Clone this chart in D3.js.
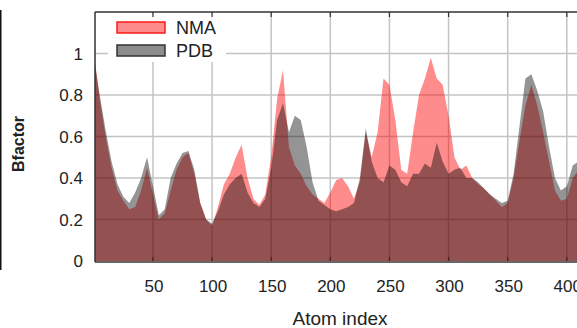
<!DOCTYPE html>
<html>
<head>
<meta charset="utf-8">
<script src="https://cdn.jsdelivr.net/npm/d3@7"></script>
<style>
  body { margin: 0; background: #fff; }
  svg { display: block; font-family: "Liberation Sans", Arial, sans-serif; }
</style>
</head>
<body>
<div class="chart"></div>
<script>
const atomIndex = [1, 5, 10, 15, 20, 25, 30, 35, 40, 45, 50, 55, 60, 65, 70, 75, 80, 85, 90, 95,
  100, 105, 110, 115, 120, 125, 130, 135, 140, 145, 150, 155, 160, 165, 170, 175, 180, 185, 190, 195,
  200, 205, 210, 215, 220, 225, 230, 235, 240, 245, 250, 255, 260, 265, 270, 275, 280, 285, 290, 295,
  300, 305, 310, 315, 320, 325, 330, 335, 340, 345, 350, 355, 360, 365, 370, 375, 380, 385, 390, 395,
  400, 405, 410];

const pdbValues = [0.95, 0.80, 0.63, 0.48, 0.37, 0.31, 0.28, 0.33, 0.40, 0.50, 0.36, 0.22, 0.25, 0.40, 0.47, 0.52, 0.53, 0.44, 0.28, 0.20,
  0.18, 0.24, 0.32, 0.37, 0.40, 0.42, 0.33, 0.28, 0.26, 0.30, 0.45, 0.68, 0.76, 0.62, 0.70, 0.68, 0.55, 0.38, 0.29, 0.27,
  0.25, 0.24, 0.25, 0.26, 0.28, 0.40, 0.64, 0.48, 0.40, 0.38, 0.46, 0.44, 0.38, 0.36, 0.42, 0.42, 0.47, 0.45, 0.57, 0.48,
  0.42, 0.44, 0.45, 0.40, 0.40, 0.38, 0.35, 0.32, 0.30, 0.28, 0.29, 0.42, 0.65, 0.88, 0.90, 0.82, 0.72, 0.55, 0.40, 0.34,
  0.36, 0.46, 0.48];

const nmaValues = [0.96, 0.78, 0.60, 0.45, 0.34, 0.29, 0.25, 0.26, 0.34, 0.45, 0.32, 0.20, 0.23, 0.34, 0.44, 0.50, 0.52, 0.42, 0.28, 0.20,
  0.17, 0.26, 0.37, 0.42, 0.50, 0.56, 0.40, 0.30, 0.27, 0.32, 0.50, 0.78, 0.92, 0.55, 0.46, 0.42, 0.36, 0.32, 0.30, 0.28,
  0.33, 0.39, 0.40, 0.36, 0.30, 0.38, 0.62, 0.50, 0.62, 0.88, 0.85, 0.68, 0.44, 0.42, 0.62, 0.80, 0.88, 0.98, 0.88, 0.85,
  0.70, 0.50, 0.44, 0.46, 0.40, 0.37, 0.35, 0.32, 0.29, 0.26, 0.28, 0.40, 0.58, 0.75, 0.85, 0.75, 0.62, 0.48, 0.34, 0.29,
  0.30, 0.40, 0.44];

const xTicks = [50, 100, 150, 200, 250, 300, 350, 400];
const yTicks = [0, 0.2, 0.4, 0.6, 0.8, 1];
const seriesNames = ['NMA', 'PDB'];

const width = 577, height = 328;
const plot = { left: 95, right: 581, top: 12, bottom: 261 };

const svg = d3.select('.chart').append('svg').attr('width', width).attr('height', height);

const x = d3.scaleLinear().domain([1, 412]).range([plot.left, plot.right]);
const y = d3.scaleLinear().domain([0, 1.2]).range([plot.bottom, plot.top]);

// grid
svg.append('g').selectAll('line').data(xTicks).enter().append('line')
  .attr('x1', d => x(d)).attr('x2', d => x(d))
  .attr('y1', plot.top).attr('y2', plot.bottom)
  .attr('stroke', '#c4c4c4').attr('stroke-width', 1.5);
svg.append('g').selectAll('line').data(yTicks.slice(1)).enter().append('line')
  .attr('x1', plot.left).attr('x2', plot.right)
  .attr('y1', d => y(d)).attr('y2', d => y(d))
  .attr('stroke', '#c4c4c4').attr('stroke-width', 1.5);

svg.append('clipPath').attr('id', 'clip').append('rect')
  .attr('x', plot.left).attr('y', plot.top)
  .attr('width', plot.right - plot.left).attr('height', plot.bottom - plot.top);

const area = values => d3.area()
  .x((d, i) => x(atomIndex[i]))
  .y0(y(0))
  .y1((d, i) => y(values[i]))(values);

const g = svg.append('g').attr('clip-path', 'url(#clip)');
g.append('path').attr('d', area(nmaValues)).attr('fill', 'rgba(255,0,0,0.45)');
g.append('path').attr('d', area(pdbValues)).attr('fill', 'rgba(0,0,0,0.42)');

// legend with white background over the grid
const legend = svg.append('g');
legend.append('rect').attr('x', 108).attr('y', 14).attr('width', 118).attr('height', 48).attr('fill', '#fff');
const legendFill = ['#ff8c8c', '#8c8c8c'];
const legendStroke = ['#ff1a1a', '#333'];
seriesNames.forEach((name, i) => {
  legend.append('rect')
    .attr('x', 117).attr('y', 22 + i * 23).attr('width', 48).attr('height', 11)
    .attr('fill', legendFill[i]).attr('stroke', legendStroke[i]).attr('stroke-width', 1.5);
  legend.append('text')
    .attr('x', 176).attr('y', 34 + i * 23)
    .attr('font-size', 18).attr('fill', '#222')
    .text(name);
});

// frame
svg.append('line').attr('x1', plot.left).attr('x2', plot.left).attr('y1', plot.top).attr('y2', plot.bottom + 1)
  .attr('stroke', '#333').attr('stroke-width', 1.5);
svg.append('line').attr('x1', plot.left).attr('x2', width).attr('y1', plot.bottom + 1).attr('y2', plot.bottom + 1)
  .attr('stroke', '#333').attr('stroke-width', 1.5);
svg.append('line').attr('x1', plot.left).attr('x2', width).attr('y1', plot.top).attr('y2', plot.top)
  .attr('stroke', '#333').attr('stroke-width', 1.5);

// inward ticks
svg.append('g').selectAll('line').data(xTicks).enter().append('line')
  .attr('x1', d => x(d)).attr('x2', d => x(d)).attr('y1', plot.top).attr('y2', plot.top + 5)
  .attr('stroke', '#333').attr('stroke-width', 1.2);
svg.append('g').selectAll('line').data(xTicks).enter().append('line')
  .attr('x1', d => x(d)).attr('x2', d => x(d)).attr('y1', plot.bottom - 4).attr('y2', plot.bottom)
  .attr('stroke', '#4a1f1f').attr('stroke-width', 1.2);

// tick labels
svg.append('g').selectAll('text').data(yTicks).enter().append('text')
  .attr('x', 83).attr('y', d => y(d) + 6)
  .attr('text-anchor', 'end').attr('font-size', 17).attr('fill', '#222')
  .text(d => d3.format('~g')(d));
svg.append('g').selectAll('text').data(xTicks).enter().append('text')
  .attr('x', d => x(d) + 1).attr('y', 292)
  .attr('text-anchor', 'middle').attr('font-size', 17).attr('fill', '#222')
  .text(d => d);

// axis titles
svg.append('text').attr('x', 340).attr('y', 325)
  .attr('text-anchor', 'middle').attr('font-size', 19).attr('fill', '#222')
  .text('Atom index');
svg.append('text').attr('transform', 'translate(24,144) rotate(-90)')
  .attr('text-anchor', 'middle').attr('font-size', 16).attr('font-weight', 'bold').attr('fill', '#222')
  .text('Bfactor');

// dark edge on the far left
svg.append('line').attr('x1', 0.75).attr('x2', 0.75).attr('y1', 10).attr('y2', 270)
  .attr('stroke', '#111').attr('stroke-width', 1.5);
</script>
</body>
</html>
